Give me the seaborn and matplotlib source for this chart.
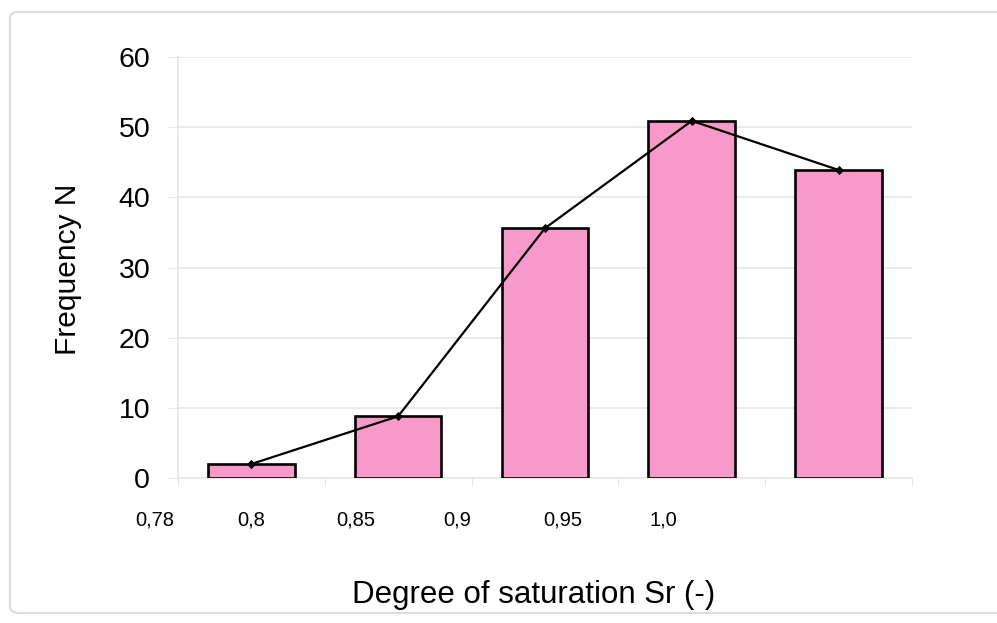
import numpy as np
import pandas as pd
import matplotlib
matplotlib.use("Agg")
import matplotlib.pyplot as plt
import seaborn as sns
from matplotlib.patches import FancyBboxPatch

# Data (bins of degree of saturation)
bins = ["0,78-0,85", "0,85-0,9", "0,9-0,95", "0,95-1,0", "1,0"]
freq = [2, 8.8, 35.6, 50.9, 43.9]

# Tick labels as they appear under the axis, with their x positions (in bar units)
tick_labels = ["0,78", "0,8", "0,85", "0,9", "0,95", "1,0"]
tick_pos = [-0.66, 0.0, 0.71, 1.40, 2.12, 2.81]

df = pd.DataFrame({"bin": bins, "N": freq})

sns.set_style("white")
plt.rcParams["font.family"] = ["Liberation Sans", "DejaVu Sans"]
plt.rcParams["text.color"] = "black"
plt.rcParams["ytick.labelcolor"] = "black"

fig = plt.figure(figsize=(9.97, 6.23), dpi=100)
ax = fig.add_axes([0.1785, 0.2327, 0.7362, 0.6758])

# Light outer frame around the chart
fig.patches.append(FancyBboxPatch((0.01, 0.016), 1.02, 0.965, boxstyle="round,pad=0,rounding_size=0.01",
                                  transform=fig.transFigure, fill=False, edgecolor="#dcdcdc", linewidth=1.5))

sns.barplot(data=df, x="bin", y="N", color="#f79ac9", saturation=1, width=0.59,
            edgecolor="black", linewidth=1.9, ax=ax, zorder=3)
sns.pointplot(data=df, x="bin", y="N", color="black", markers="D", markersize=3.5,
              linewidth=1.6, ax=ax, zorder=4)

ax.set_xlim(-0.5, 4.5)
ax.set_ylim(0, 60)
ax.set_yticks(np.arange(0, 61, 10))
ax.yaxis.grid(True, color="#e6e6e6", linewidth=1.2, zorder=0)
ax.set_axisbelow(True)

for side in ["top", "right"]:
    ax.spines[side].set_visible(False)
for side in ["left", "bottom"]:
    ax.spines[side].set_color("#e6e6e6")
    ax.spines[side].set_linewidth(1.2)

ax.set_xticks(np.arange(-0.5, 4.6, 1.0))
ax.set_xticklabels([])
ax.tick_params(axis="x", length=6, color="#e6e6e6", direction="out", bottom=True)
ax.tick_params(axis="y", length=7, color="#e6e6e6", left=True, labelsize=20.5, pad=13, labelcolor="black")

for lab, p in zip(tick_labels, tick_pos):
    ax.text(p, -0.10, lab, transform=ax.get_xaxis_transform(), ha="center", va="center",
            fontsize=14.5, color="black")

ax.set_xlabel("")
ax.set_ylabel("")
fig.text(0.535, 0.045, "Degree of saturation Sr (-)", ha="center", va="center", fontsize=22.5, color="black")
fig.text(0.068, 0.568, "Frequency N", ha="center", va="center", rotation=90, fontsize=21.5, color="black")

fig.savefig("out.png", dpi=100)
